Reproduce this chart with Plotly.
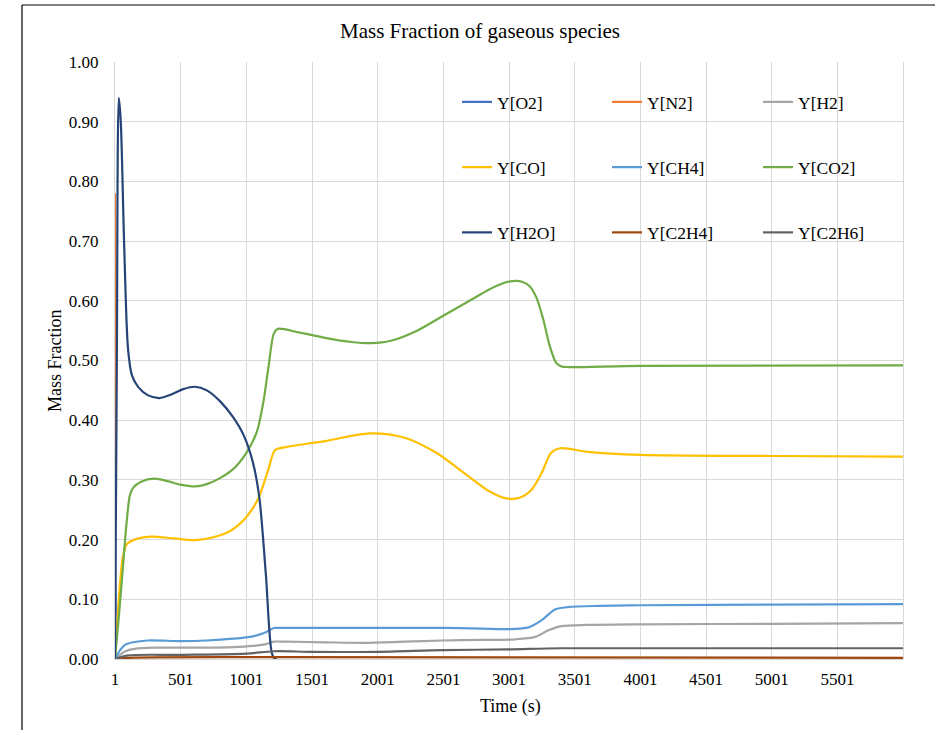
import plotly.graph_objects as go

# Time steps (s) and mass fractions for each gaseous species
t_o2 = [1, 6, 12, 6000]
y_o2 = [0.21, 0.08, 0.0, 0.0]

t_n2 = [1, 8, 18, 6000]
y_n2 = [0.78, 0.35, 0.0, 0.0]

t_h2 = [1, 40, 80, 150, 300, 500, 700, 900, 1050, 1150, 1210, 1300, 1600, 1900, 2200, 2500, 2800, 3050, 3200, 3300, 3400, 3600, 4000, 5000, 6000]
y_h2 = [0.0, 0.007, 0.013, 0.017, 0.019, 0.019, 0.019, 0.020, 0.022, 0.025, 0.029, 0.029, 0.028, 0.027, 0.029, 0.031, 0.032, 0.033, 0.037, 0.048, 0.055, 0.057, 0.058, 0.059, 0.060]

t_co = [1, 30, 60, 90, 150, 270, 450, 610, 750, 875, 990, 1090, 1165, 1220, 1300, 1600, 1940, 2200, 2450, 2650, 2850, 2980, 3080, 3170, 3250, 3320, 3390, 3600, 4000, 5000, 6000]
y_co = [0.0, 0.10, 0.17, 0.192, 0.200, 0.205, 0.202, 0.199, 0.204, 0.214, 0.235, 0.268, 0.315, 0.350, 0.355, 0.365, 0.378, 0.371, 0.345, 0.313, 0.281, 0.269, 0.270, 0.283, 0.312, 0.345, 0.353, 0.347, 0.342, 0.340, 0.339]

t_ch4 = [1, 40, 80, 140, 250, 500, 700, 900, 1050, 1150, 1210, 1250, 1600, 2000, 2500, 2800, 3000, 3150, 3250, 3350, 3450, 3700, 4000, 5000, 6000]
y_ch4 = [0.0, 0.015, 0.024, 0.028, 0.031, 0.030, 0.031, 0.034, 0.038, 0.045, 0.052, 0.052, 0.052, 0.052, 0.052, 0.051, 0.050, 0.053, 0.065, 0.083, 0.087, 0.089, 0.090, 0.091, 0.092]

t_co2 = [1, 30, 60, 90, 115, 140, 200, 300, 400, 500, 610, 700, 800, 900, 1000, 1080, 1130, 1170, 1210, 1240, 1400, 1600, 1800, 1950, 2100, 2300, 2500, 2700, 2850, 2950, 3030, 3100, 3160, 3210, 3260, 3310, 3360, 3400, 3450, 4000, 6000]
y_co2 = [0.0, 0.07, 0.15, 0.23, 0.275, 0.287, 0.297, 0.302, 0.298, 0.292, 0.289, 0.293, 0.303, 0.318, 0.345, 0.380, 0.430, 0.490, 0.545, 0.553, 0.547, 0.538, 0.531, 0.529, 0.533, 0.550, 0.575, 0.600, 0.619, 0.629, 0.633, 0.632, 0.624, 0.605, 0.570, 0.525, 0.496, 0.490, 0.489, 0.491, 0.492]

t_h2o = [1, 15, 30, 45, 70, 100, 130, 180, 250, 340, 430, 520, 610, 700, 800, 900, 980, 1050, 1100, 1150, 1195, 1220, 6000]
y_h2o = [0.0, 0.50, 0.94, 0.90, 0.70, 0.52, 0.475, 0.455, 0.442, 0.437, 0.443, 0.452, 0.456, 0.450, 0.432, 0.405, 0.375, 0.330, 0.270, 0.140, 0.010, 0.0, 0.0]

t_c2h4 = [1, 100, 1200, 6000]
y_c2h4 = [0.0, 0.002, 0.003, 0.002]

t_c2h6 = [1, 100, 500, 1000, 1210, 1500, 2000, 2500, 3000, 3400, 6000]
y_c2h6 = [0.0, 0.006, 0.007, 0.009, 0.013, 0.012, 0.012, 0.015, 0.016, 0.018, 0.018]

x_ticks = [1, 501, 1001, 1501, 2001, 2501, 3001, 3501, 4001, 4501, 5001, 5501]
y_ticks = [0.0, 0.1, 0.2, 0.3, 0.4, 0.5, 0.6, 0.7, 0.8, 0.9, 1.0]

series = [
    ("Y[O2]", t_o2, y_o2, "#4472C4", "legend", 0),
    ("Y[N2]", t_n2, y_n2, "#ED7D31", "legend2", 0),
    ("Y[H2]", t_h2, y_h2, "#A5A5A5", "legend3", 0),
    ("Y[CO]", t_co, y_co, "#FFC000", "legend", 1),
    ("Y[CH4]", t_ch4, y_ch4, "#5B9BD5", "legend2", 1),
    ("Y[CO2]", t_co2, y_co2, "#70AD47", "legend3", 1),
    ("Y[H2O]", t_h2o, y_h2o, "#264478", "legend", 2),
    ("Y[C2H4]", t_c2h4, y_c2h4, "#9E480E", "legend2", 2),
    ("Y[C2H6]", t_c2h6, y_c2h6, "#636363", "legend3", 2),
]

FONT = "Liberation Serif"

fig = go.Figure()
for name, tx, vy, color, leg, row in series:
    fig.add_trace(go.Scatter(
        x=tx, y=vy, name=name, mode="lines",
        line=dict(color=color, width=2.2, shape="spline", smoothing=0.8),
        legend=leg, legendgroup=name + "_g", legendrank=row,
    ))

W, H = 935, 730
L, R, T, B = 115, 32, 62, 71
pw, ph = W - L - R, H - T - B


def px_x(px):
    return (px - L) / pw


def px_y(py):
    return (H - B - py) / ph


leg_common = dict(
    font=dict(family=FONT, size=17.5, color="#000000"),
    bgcolor="rgba(0,0,0,0)", orientation="v", yanchor="top",
    tracegroupgap=39.5, itemwidth=30,
)

fig.update_layout(
    width=W, height=H,
    margin=dict(l=L, r=R, t=T, b=B),
    paper_bgcolor="#ffffff", plot_bgcolor="#ffffff",
    font=dict(family=FONT, size=17, color="#000000"),
    title=dict(
        text="Mass Fraction of gaseous species",
        font=dict(family=FONT, size=21, color="#000000"),
        x=480 / W, xref="container", xanchor="center",
        y=1 - 31 / H, yref="container", yanchor="middle",
    ),
    xaxis=dict(
        range=[1, 6000], tickmode="array", tickvals=x_ticks,
        ticktext=[str(v) for v in x_ticks],
        showgrid=True, gridcolor="#D9D9D9", gridwidth=1,
        showline=True, linecolor="#D9D9D9", linewidth=1,
        zeroline=False, ticks="", ticklabelstandoff=5,
        tickfont=dict(family=FONT, size=17, color="#000000"),
    ),
    yaxis=dict(
        range=[0, 1.0], tickmode="array", tickvals=y_ticks,
        ticktext=[f"{v:.2f}" for v in y_ticks],
        showgrid=True, gridcolor="#D9D9D9", gridwidth=1,
        showline=True, mirror=True, linecolor="#D9D9D9", linewidth=1,
        zeroline=False, ticks="", ticklabelstandoff=12,
        tickfont=dict(family=FONT, size=17, color="#000000"),
    ),
    legend=dict(x=px_x(457), y=px_y(84), **leg_common),
    legend2=dict(x=px_x(607), y=px_y(84), **leg_common),
    legend3=dict(x=px_x(758), y=px_y(84), **leg_common),
    showlegend=True,
)

# Axis titles
fig.add_annotation(text="Time (s)", xref="paper", yref="paper",
                   x=px_x(510), y=px_y(706), xanchor="center", yanchor="middle",
                   showarrow=False,
                   font=dict(family=FONT, size=18, color="#000000"))
fig.add_annotation(text="Mass Fraction", xref="paper", yref="paper",
                   x=px_x(55), y=px_y(360), xanchor="center", yanchor="middle",
                   showarrow=False, textangle=-90,
                   font=dict(family=FONT, size=18, color="#000000"))

# Chart area frame (top and left edges)
fig.add_shape(type="line", xref="paper", yref="paper",
              x0=px_x(22), x1=px_x(W + 5), y0=px_y(5), y1=px_y(5),
              line=dict(color="#000000", width=1.2))
fig.add_shape(type="line", xref="paper", yref="paper",
              x0=px_x(22), x1=px_x(22), y0=px_y(5), y1=px_y(H + 5),
              line=dict(color="#000000", width=1.2))

fig.write_html("out.html")
